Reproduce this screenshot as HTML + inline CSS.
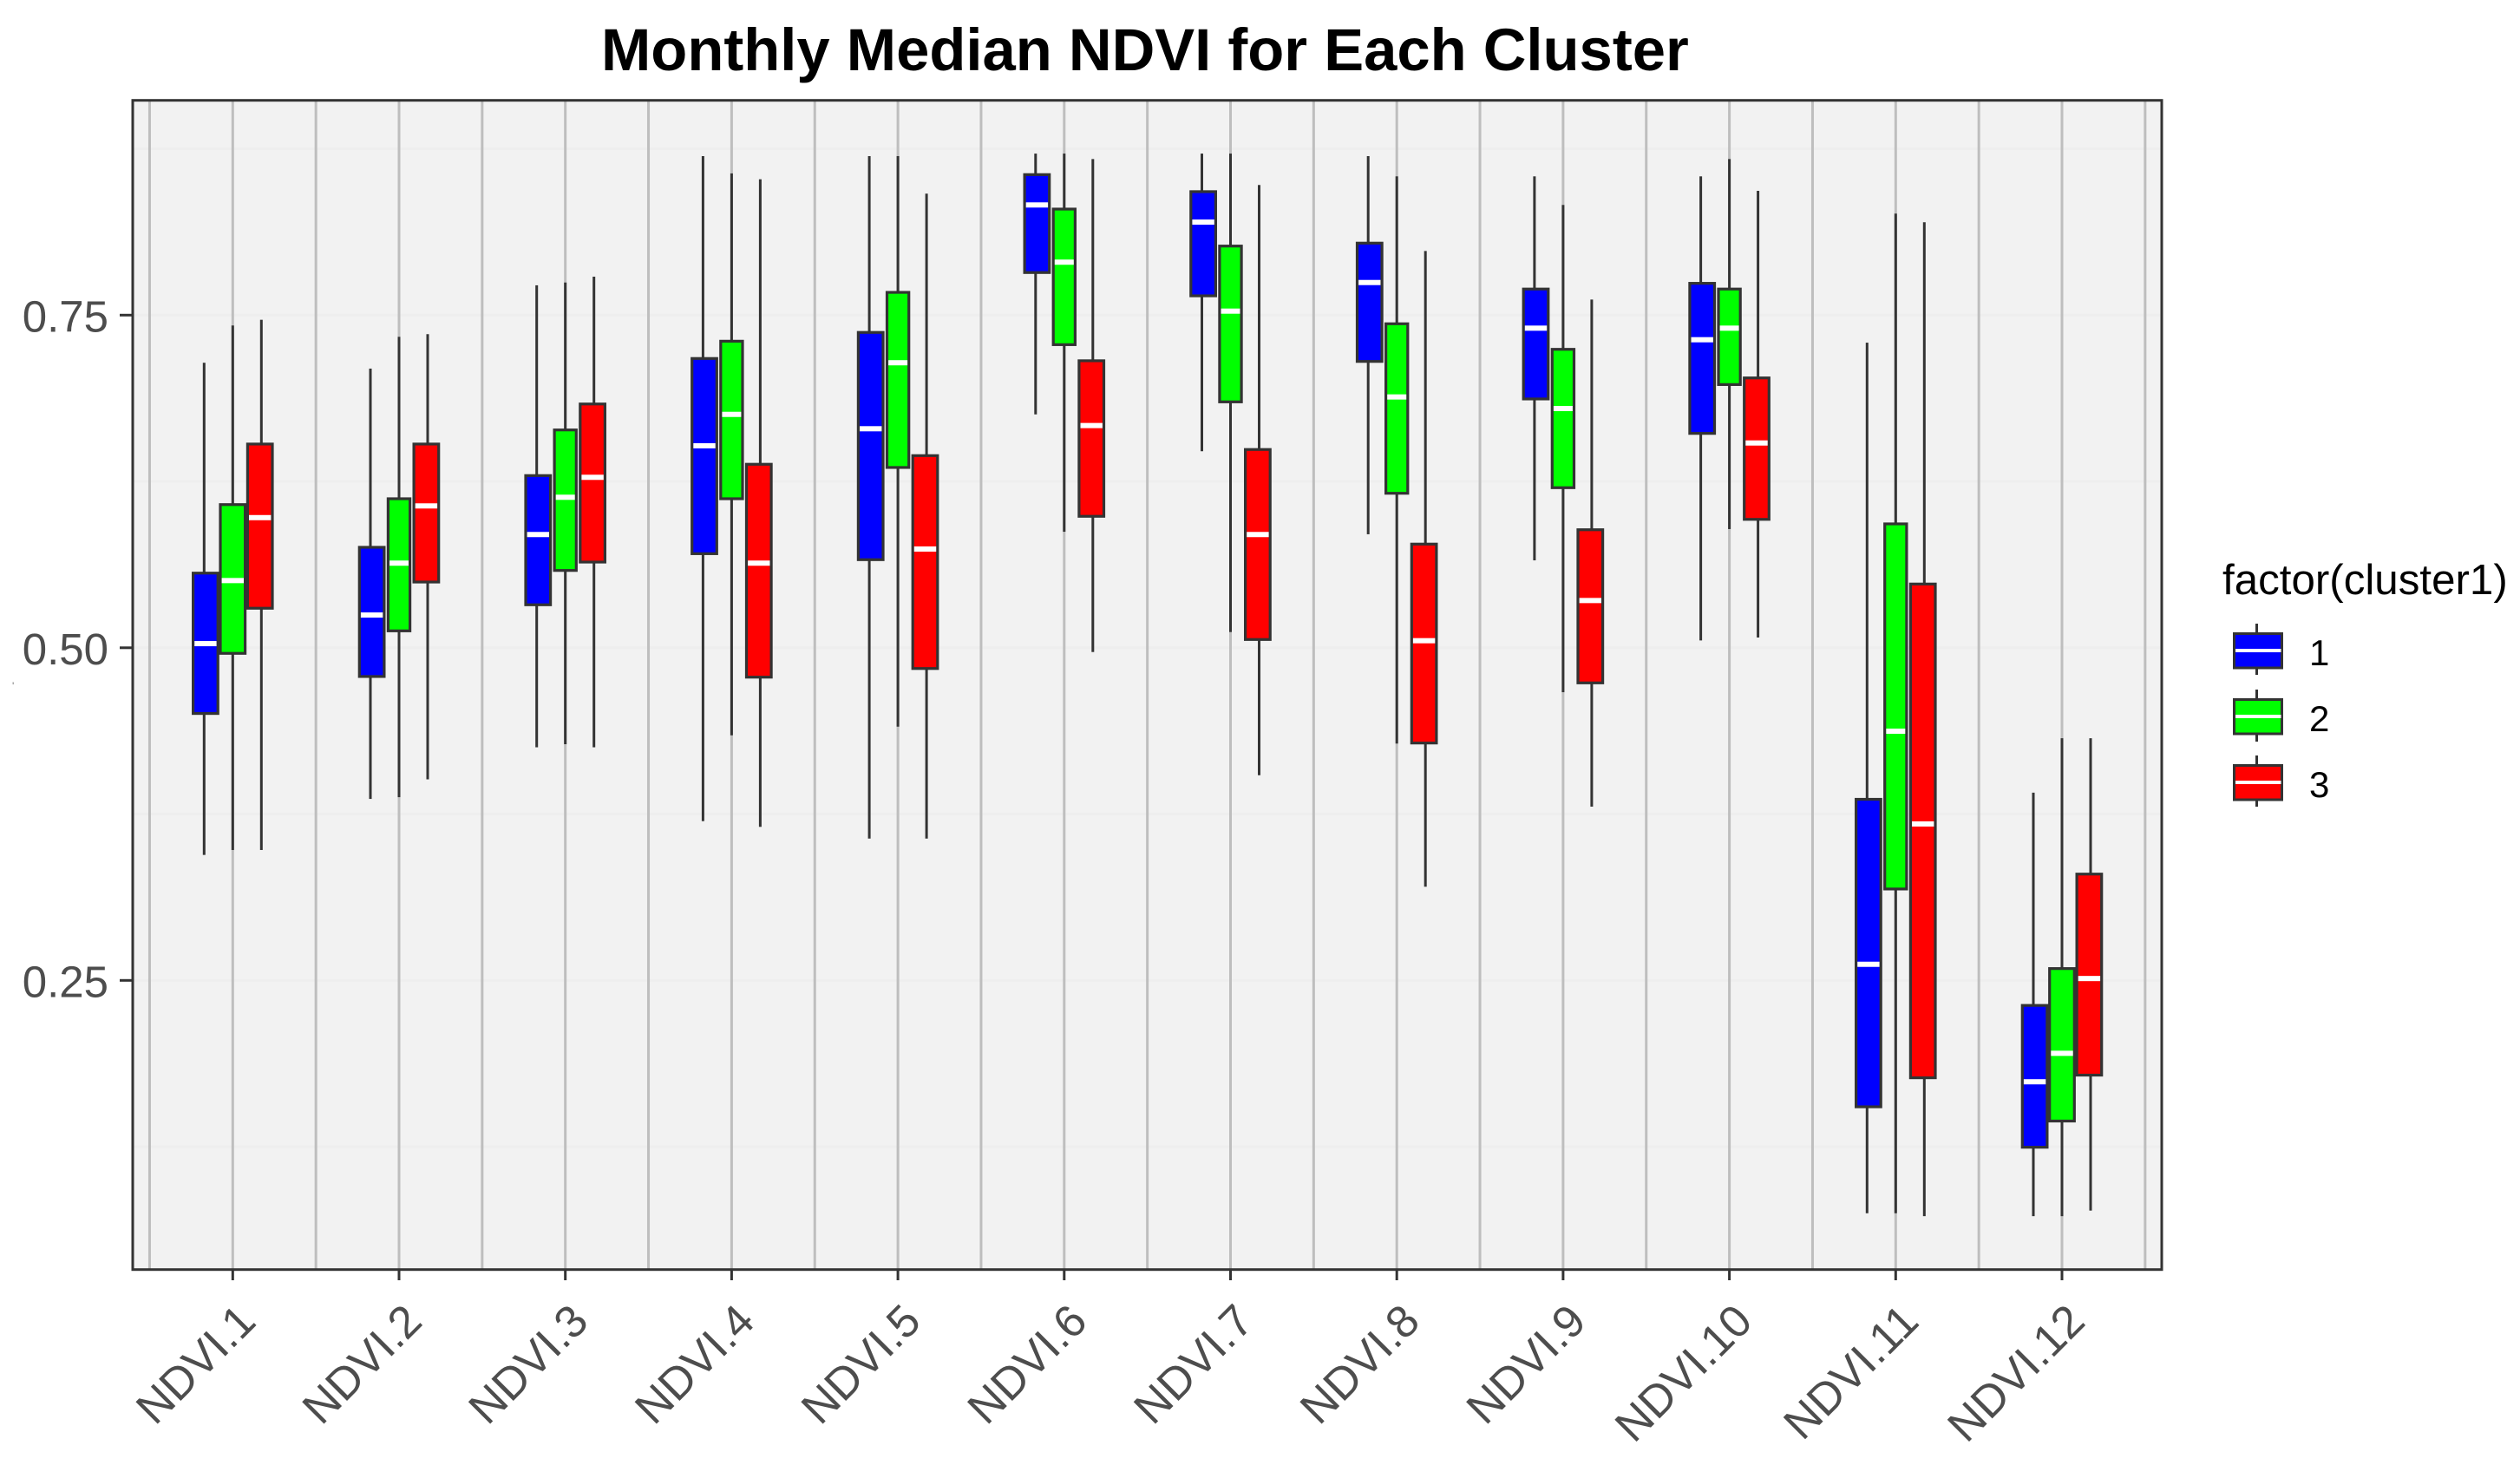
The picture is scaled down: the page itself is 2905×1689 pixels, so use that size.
<!DOCTYPE html>
<html lang="en">
<head>
<meta charset="utf-8">
<title>Monthly Median NDVI for Each Cluster</title>
<style>
html,body{margin:0;padding:0;background:#fff;}
svg{display:block;font-family:"Liberation Sans",sans-serif;}
</style>
</head>
<body>
<svg id="chart" xmlns="http://www.w3.org/2000/svg" width="2905" height="1689" viewBox="0 0 2905 1689">
  <rect x="0" y="0" width="2905" height="1689" fill="#ffffff"/>
  <text x="693" y="81" font-size="68.8" font-weight="700" fill="#000000">Monthly Median NDVI for Each Cluster</text>
  <rect x="153" y="115.7" width="2339" height="1348" fill="#f2f2f2"/>
  <g id="grid"></g>
  <g id="boxes"></g>
  <rect x="153" y="115.7" width="2339" height="1348" fill="none" stroke="#333333" stroke-width="3"/>
  <g id="axes"></g>
  <text x="14" y="795" font-size="12" fill="#777777">'</text>

  <g>
    <text x="2562" y="685" font-size="49.3" fill="#000000">factor(cluster1)</text>
    <g>
      <rect x="2600" y="719" width="3" height="59" fill="#333333"/>
      <rect x="2575.5" y="730.5" width="55" height="39.5" fill="#0000ff" stroke="#333333" stroke-width="3"/>
      <rect x="2577" y="748" width="52.5" height="4" fill="#ffffff"/>
      <text x="2662" y="767" font-size="42" fill="#000000">1</text>
    </g>
    <g>
      <rect x="2600" y="795" width="3" height="60" fill="#333333"/>
      <rect x="2575.5" y="806.5" width="55" height="39.5" fill="#00ff00" stroke="#333333" stroke-width="3"/>
      <rect x="2577" y="824" width="52.5" height="4" fill="#ffffff"/>
      <text x="2662" y="843" font-size="42" fill="#000000">2</text>
    </g>
    <g>
      <rect x="2600" y="871" width="3" height="59" fill="#333333"/>
      <rect x="2575.5" y="882.5" width="55" height="39.5" fill="#ff0000" stroke="#333333" stroke-width="3"/>
      <rect x="2577" y="900" width="52.5" height="4" fill="#ffffff"/>
      <text x="2662" y="919" font-size="42" fill="#000000">3</text>
    </g>
  </g>
</svg>

<script>
const categories = ["NDVI.1","NDVI.2","NDVI.3","NDVI.4","NDVI.5","NDVI.6","NDVI.7","NDVI.8","NDVI.9","NDVI.10","NDVI.11","NDVI.12"];
const yTickValues = [0.25, 0.5, 0.75];
const yTickLabels = ["0.25", "0.50", "0.75"];
const yGridValues = [0.125, 0.25, 0.375, 0.5, 0.625, 0.75, 0.875];
const clusters = ["1", "2", "3"];

const cluster1WhiskerHigh = [0.7142,0.7098,0.7724,0.8695,0.8695,0.8714,0.8714,0.8695,0.8543,0.8543,0.7293,0.3911];
const cluster1Q3          = [0.5561,0.5755,0.6294,0.7174,0.7370,0.8556,0.8428,0.8041,0.7696,0.7739,0.3861,0.2312];
const cluster1Median      = [0.5031,0.5246,0.5851,0.6518,0.6646,0.8328,0.8199,0.7745,0.7402,0.7315,0.2621,0.1738];
const cluster1Q1          = [0.4506,0.4784,0.5323,0.5707,0.5662,0.7820,0.7645,0.7152,0.6870,0.6611,0.1550,0.1246];
const cluster1WhiskerLow  = [0.3443,0.3864,0.4252,0.3697,0.3566,0.6754,0.6477,0.5853,0.5657,0.5055,0.0750,0.0728];

const cluster2WhiskerHigh = [0.7422,0.7337,0.7745,0.8565,0.8695,0.8714,0.8714,0.8543,0.8328,0.8673,0.8263,0.4320];
const cluster2Q3          = [0.6076,0.6120,0.6637,0.7304,0.7671,0.8297,0.8019,0.7435,0.7243,0.7696,0.5931,0.2589];
const cluster2Median      = [0.5505,0.5636,0.6131,0.6754,0.7142,0.7898,0.7530,0.6885,0.6798,0.7402,0.4373,0.1952];
const cluster2Q1          = [0.4958,0.5127,0.5581,0.6120,0.6355,0.7278,0.6848,0.6161,0.6203,0.6978,0.3187,0.1443];
const cluster2WhiskerLow  = [0.3480,0.3877,0.4275,0.4342,0.4407,0.5872,0.5118,0.4280,0.4666,0.5892,0.0750,0.0728];

const cluster3WhiskerHigh = [0.7465,0.7357,0.7789,0.8521,0.8413,0.8673,0.8478,0.7982,0.7617,0.8434,0.8198,0.4320];
const cluster3Q3          = [0.6531,0.6531,0.6832,0.6379,0.6444,0.7157,0.6490,0.5779,0.5887,0.7028,0.5479,0.3299];
const cluster3Median      = [0.5978,0.6066,0.6281,0.5636,0.5742,0.6670,0.5851,0.5053,0.5355,0.6539,0.3676,0.2514];
const cluster3Q1          = [0.5297,0.5494,0.5644,0.4779,0.4844,0.5988,0.5062,0.4284,0.4736,0.5965,0.1768,0.1788];
const cluster3WhiskerLow  = [0.3480,0.4011,0.4252,0.3654,0.3566,0.4968,0.4042,0.3204,0.3806,0.5077,0.0728,0.0770];

const SVG_NS = "http://www.w3.org/2000/svg";
const xUnit = 191.7;
function xScale(index) { return 268.3 + xUnit * index; }
function yScale(value) { return 363.3 + (0.75 - value) * 1534; }

function makeRect(parent, x, y, w, h, fill, stroke, strokeWidth) {
  const r = document.createElementNS(SVG_NS, "rect");
  r.setAttribute("x", x);
  r.setAttribute("y", y);
  r.setAttribute("width", w);
  r.setAttribute("height", h);
  r.setAttribute("fill", fill);
  if (stroke) {
    r.setAttribute("stroke", stroke);
    r.setAttribute("stroke-width", strokeWidth);
  }
  parent.appendChild(r);
  return r;
}

const gridGroup = document.getElementById("grid");
yGridValues.forEach(function (v) {
  const line = makeRect(gridGroup, 153, yScale(v) - 1.5, 2339, 3, "#eeeeee");
  
  
});
for (let k = -0.5; k <= categories.length - 0.5; k += 0.5) {
  const line = makeRect(gridGroup, xScale(k) - 1.5, 117, 3, 1346, "#bebebe");
  
  
}

const boxGroup = document.getElementById("boxes");
const seriesStyle = [
  { fill: "#0000ff", boxOffset: -31.4, whiskerOffset: -33 },
  { fill: "#00ff00", boxOffset: 0, whiskerOffset: 0 },
  { fill: "#ff0000", boxOffset: 31.4, whiskerOffset: 33 }
];
const seriesData = [
  [cluster1WhiskerHigh, cluster1Q3, cluster1Median, cluster1Q1, cluster1WhiskerLow],
  [cluster2WhiskerHigh, cluster2Q3, cluster2Median, cluster2Q1, cluster2WhiskerLow],
  [cluster3WhiskerHigh, cluster3Q3, cluster3Median, cluster3Q1, cluster3WhiskerLow]
];
const strokeW = 3.2;

categories.forEach(function (category, i) {
  clusters.forEach(function (cluster, s) {
    const d = seriesData[s];
    const st = seriesStyle[s];
    const hi = yScale(d[0][i]);
    const q3 = yScale(d[1][i]);
    const med = yScale(d[2][i]);
    const q1 = yScale(d[3][i]);
    const lo = yScale(d[4][i]);
    const cx = xScale(i) + st.boxOffset;
    const wx = xScale(i) + st.whiskerOffset;
    const narrow = s === 1 && i !== 0 && i !== 11;
    const outer = narrow ? 28.4 : 31.8;

    const g = document.createElementNS(SVG_NS, "g");
    
    
    boxGroup.appendChild(g);

    const whisker = makeRect(g, wx - 1.5, hi, 3, lo - hi, "#333333");
    
    

    const box = makeRect(g, cx - outer / 2 + strokeW / 2, q3, outer - strokeW, q1 - q3, st.fill, "#333333", strokeW);
    
    

    const median = makeRect(g, cx - outer / 2 + strokeW, med - 3, outer - 2 * strokeW, 6, "#ffffff");
    
    
  });
});

const axesGroup = document.getElementById("axes");
yTickValues.forEach(function (v, i) {
  const tick = makeRect(axesGroup, 138, yScale(v) - 1.5, 15, 3, "#333333");
  
  

  const label = document.createElementNS(SVG_NS, "text");
  label.setAttribute("x", 125);
  label.setAttribute("y", yScale(v) + 19);
  label.setAttribute("text-anchor", "end");
  label.setAttribute("font-size", "51");
  label.setAttribute("fill", "#4d4d4d");
  label.textContent = yTickLabels[i];
  
  
  axesGroup.appendChild(label);
});
categories.forEach(function (category, i) {
  const tick = makeRect(axesGroup, xScale(i) - 1.5, 1465, 3, 11, "#333333");
  
  

  const ax = xScale(i) + 29;
  const ay = 1526;
  const label = document.createElementNS(SVG_NS, "text");
  label.setAttribute("x", ax);
  label.setAttribute("y", ay);
  label.setAttribute("text-anchor", "end");
  label.setAttribute("font-size", "52");
  label.setAttribute("fill", "#4d4d4d");
  label.setAttribute("transform", "rotate(-45 " + ax + " " + ay + ")");
  label.textContent = category;
  
  
  axesGroup.appendChild(label);
});
</script>
</body>
</html>
